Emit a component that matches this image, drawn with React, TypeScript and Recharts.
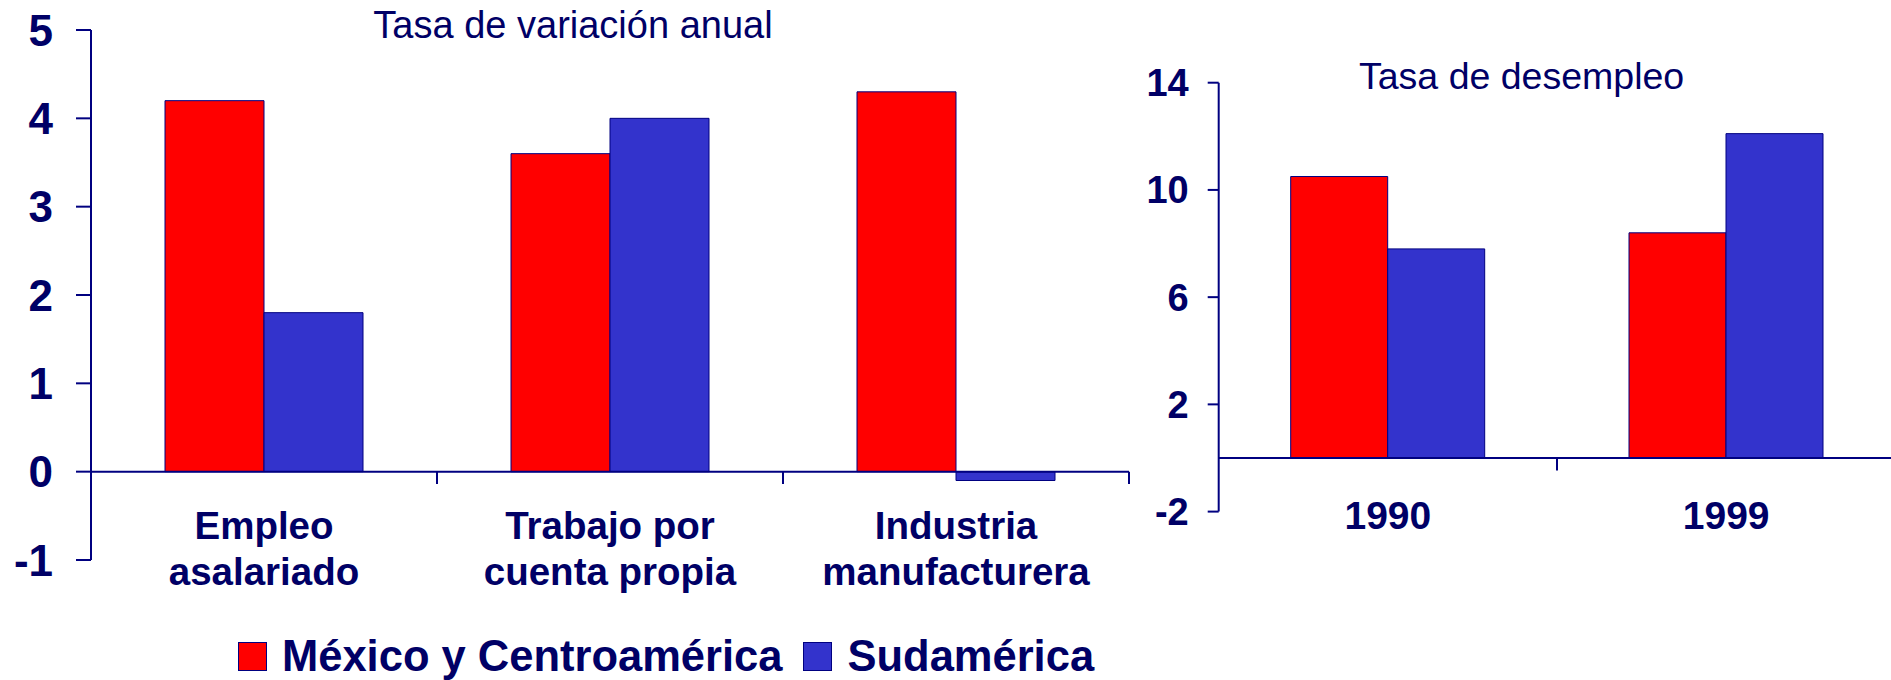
import React from 'react';
import { BarChart, Bar, XAxis, YAxis, ReferenceLine, Legend } from 'recharts';

const NAVY_TEXT = '#000066';
const NAVY_LINE = '#000080';
const RED = '#FF0000';
const BLUE = '#3333CC';
const FONT = '"Liberation Sans", Arial, Helvetica, sans-serif';

const seriesNames = ['México y Centroamérica', 'Sudamérica'];
const seriesColors = [RED, BLUE];

const leftTitle = 'Tasa de variación anual';
const leftCategories = ['Empleo asalariado', 'Trabajo por cuenta propia', 'Industria manufacturera'];
const leftCategoryLines = [
  ['Empleo', 'asalariado'],
  ['Trabajo por', 'cuenta propia'],
  ['Industria', 'manufacturera'],
];
const leftMexico = [4.2, 3.6, 4.3];
const leftSud = [1.8, 4.0, -0.1];
const leftTicks = [-1, 0, 1, 2, 3, 4, 5];

const rightTitle = 'Tasa de desempleo';
const rightCategories = ['1990', '1999'];
const rightMexico = [10.5, 8.4];
const rightSud = [7.8, 12.1];
const rightTicks = [-2, 2, 6, 10, 14];

const leftData = leftCategories.map((c, i) => ({ category: c, bound: i + 1, mex: leftMexico[i], sud: leftSud[i] }));
const rightData = rightCategories.map((c, i) => ({ category: c, bound: i + 1, mex: rightMexico[i], sud: rightSud[i] }));

const LeftTick = (props: any) => {
  const { x, y, payload } = props;
  const idx = leftCategories.indexOf(payload.value);
  const lines = leftCategoryLines[idx] || [payload.value];
  return (
    <text x={x} y={y} textAnchor="middle" fill={NAVY_TEXT} fontFamily={FONT} fontWeight="bold" fontSize={38.5}>
      <tspan x={x} dy={-21}>{lines[0]}</tspan>
      <tspan x={x} dy={46}>{lines[1]}</tspan>
    </text>
  );
};

const RightTick = (props: any) => {
  const { x, y, payload } = props;
  return (
    <text x={x} y={y} dy={17.7} textAnchor="middle" fill={NAVY_TEXT} fontFamily={FONT} fontWeight="bold" fontSize={39}>
      {payload.value}
    </text>
  );
};

const LegendContent = () => (
  <div style={{ display: 'flex', alignItems: 'center', whiteSpace: 'nowrap', fontFamily: FONT }}>
    {seriesNames.map((n, i) => (
      <div key={n} style={{ display: 'flex', alignItems: 'center', marginRight: 21 }}>
        <div
          style={{
            width: 27,
            height: 27,
            background: seriesColors[i],
            border: `1px solid ${NAVY_LINE}`,
            marginRight: 15,
          }}
        />
        <span style={{ fontSize: 43.5, fontWeight: 'bold', color: NAVY_TEXT, lineHeight: '29px' }}>{n}</span>
      </div>
    ))}
  </div>
);

export default function App() {
  return (
    <div style={{ position: 'absolute', left: 0, top: 0, width: 1891, height: 680, overflow: 'hidden', background: '#fff' }}>
      <div style={{ position: 'absolute', left: 0, top: 0 }}>
        <BarChart width={1150} height={680} data={leftData} margin={{ top: 30, right: 21, bottom: 0, left: 0 }} barGap={0}>
          <XAxis
            dataKey="category"
            height={120}
            axisLine={false}
            tickLine={false}
            tickSize={0}
            tickMargin={0}
            interval={0}
            tick={<LeftTick />}
          />
          <XAxis
            xAxisId="bounds"
            dataKey="bound"
            type="number"
            domain={[0, leftCategories.length]}
            allowDataOverflow
            hide
          />
          <YAxis
            width={91}
            domain={[-1, 5]}
            ticks={leftTicks}
            interval={0}
            allowDataOverflow
            tickSize={15}
            tickMargin={23}
            axisLine={{ stroke: NAVY_LINE, strokeWidth: 2 }}
            tickLine={{ stroke: NAVY_LINE, strokeWidth: 2 }}
            tick={{ fill: NAVY_TEXT, fontSize: 44, fontWeight: 'bold', fontFamily: FONT }}
          />
          <Bar dataKey="mex" name={seriesNames[0]} fill={RED} stroke={NAVY_LINE} strokeWidth={1} barSize={99} isAnimationActive={false} />
          <Bar dataKey="sud" name={seriesNames[1]} fill={BLUE} stroke={NAVY_LINE} strokeWidth={1} barSize={99} isAnimationActive={false} />
          <ReferenceLine y={0} stroke={NAVY_LINE} strokeWidth={2} />
          {leftData.map((d) => (
            <ReferenceLine
              key={d.category}
              xAxisId="bounds"
              segment={[{ x: d.bound, y: 0 }, { x: d.bound, y: -0.14 }]}
              stroke={NAVY_LINE}
              strokeWidth={2}
              ifOverflow="visible"
            />
          ))}
          <Legend
            verticalAlign="middle"
            align="center"
            layout="horizontal"
            wrapperStyle={{ left: 238, top: 642, width: 900, height: 29 }}
            content={() => <LegendContent />}
          />
        </BarChart>
      </div>
      <div style={{ position: 'absolute', left: 1140, top: 0 }}>
        <BarChart width={760} height={680} data={rightData} margin={{ top: 82.7, right: 4.7, bottom: 0, left: 0 }} barGap={0}>
          <XAxis
            dataKey="category"
            height={168.4}
            axisLine={false}
            tickLine={false}
            tickSize={0}
            tickMargin={0}
            interval={0}
            tick={<RightTick />}
          />
          <XAxis
            xAxisId="bounds"
            dataKey="bound"
            type="number"
            domain={[0, rightCategories.length]}
            allowDataOverflow
            hide
          />
          <YAxis
            width={78.7}
            domain={[-2, 14]}
            ticks={rightTicks}
            interval={0}
            allowDataOverflow
            tickSize={11}
            tickMargin={19}
            axisLine={{ stroke: NAVY_LINE, strokeWidth: 2 }}
            tickLine={{ stroke: NAVY_LINE, strokeWidth: 2 }}
            tick={{ fill: NAVY_TEXT, fontSize: 38, fontWeight: 'bold', fontFamily: FONT }}
          />
          <Bar dataKey="mex" name={seriesNames[0]} fill={RED} stroke={NAVY_LINE} strokeWidth={1} barSize={97} isAnimationActive={false} />
          <Bar dataKey="sud" name={seriesNames[1]} fill={BLUE} stroke={NAVY_LINE} strokeWidth={1} barSize={97} isAnimationActive={false} />
          <ReferenceLine y={0} stroke={NAVY_LINE} strokeWidth={2} />
          {rightData.map((d) => (
            <ReferenceLine
              key={d.category}
              xAxisId="bounds"
              segment={[{ x: d.bound, y: 0 }, { x: d.bound, y: -0.47 }]}
              stroke={NAVY_LINE}
              strokeWidth={2}
              ifOverflow="visible"
            />
          ))}
        </BarChart>
      </div>
      <svg width={1891} height={680} style={{ position: 'absolute', left: 0, top: 0, pointerEvents: 'none' }}>
        <text x={573} y={38} textAnchor="middle" fill={NAVY_TEXT} fontFamily={FONT} fontSize={38}>
          {leftTitle}
        </text>
        <text x={1359} y={89} textAnchor="start" fill={NAVY_TEXT} fontFamily={FONT} fontSize={37.5}>
          {rightTitle}
        </text>
      </svg>
    </div>
  );
}
